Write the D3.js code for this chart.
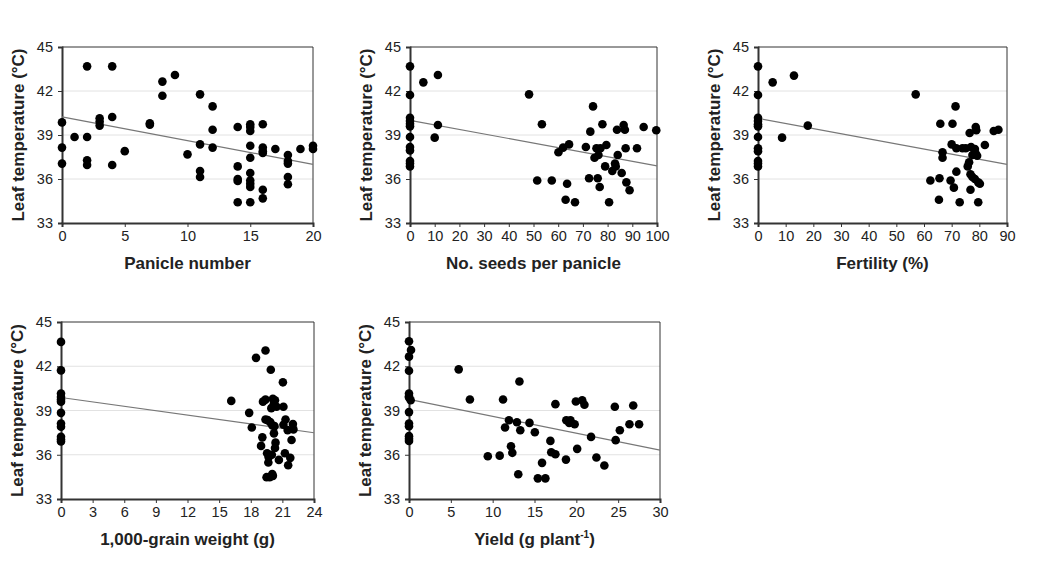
<!DOCTYPE html>
<html><head><meta charset="utf-8">
<script src="https://cdn.jsdelivr.net/npm/d3@7"></script>
<style>
body{margin:0;background:#fff;}
svg{display:block;font-family:"Liberation Sans",Arial,sans-serif;}
</style></head><body>
<svg id="c" width="1054" height="563"></svg>
<script>
// ---- data ----
const yTicks = [33, 36, 39, 42, 45];
const yGrid = [36, 39, 42];

const panicleX = [0,0,0,1,2,2,2,2,3,3,3,4,4,4,5,7,7,8,8,9,10,11,11,11,11,12,12,12,14,14,14,14,14,15,15,15,15,15,15,15,15,15,15,16,16,16,16,16,16,17,18,18,18,18,18,19,20,20];
const panicleY = [39.86,38.14,37.05,38.86,43.68,38.86,37.27,36.95,40.14,39.9,39.64,43.68,40.23,36.95,37.9,39.8,39.7,42.64,41.68,43.09,37.68,41.77,38.36,36.55,36.14,40.95,39.36,38.14,39.55,36.86,36.0,35.86,34.41,39.73,39.55,39.27,38.27,37.45,36.41,35.9,35.68,35.45,34.41,39.73,38.14,37.9,37.77,35.27,34.68,38.05,37.64,37.23,37.05,36.14,35.64,38.05,38.27,38.05];
const panicleTicks = [0,5,10,15,20];
const panicleLine = [40.23, 37.0];

const seedsX = [0,0,0,0,0,0,0,0,0,0,0,0,5.4,11.3,10,11.3,48.2,53.4,51.5,57.4,60.1,62,64.4,63.6,63,66.8,71.2,72.5,73,74.1,74.7,75.5,76,76.3,76.8,77.1,77.9,79,79.5,80.6,81.9,83,83.3,84.1,83.8,85.7,86.5,87,87.3,87.6,88.9,91.9,94.6,99.7];
const seedsY = [43.68,41.73,40.18,39.95,39.77,39.59,38.86,38.18,37.95,37.23,37.05,36.86,42.59,43.09,38.82,39.68,41.77,39.73,35.9,35.9,37.82,38.14,38.36,35.68,34.59,34.41,38.18,36.05,39.23,40.95,37.45,38.1,36.05,37.64,35.45,38.1,39.73,36.86,38.32,34.41,36.55,37.05,36.86,37.64,39.36,36.41,39.68,39.36,38.1,35.77,35.23,38.1,39.55,39.32];
const seedsTicks = [0,10,20,30,40,50,60,70,80,90,100];
const seedsLine = [40.0, 36.9];

const fertX = [0,0,0,0,0,0,0,0,0,0,0,0,5.3,13,8.7,18,57,62.3,65.6,65.4,65.9,66.7,66.7,70.3,69.6,70.0,70.8,71.4,71.7,71.7,72.9,73.9,75.1,75.8,76.3,76.5,76.8,76.8,77,77.5,77.5,78.7,78.9,78.4,78.7,79.2,79.6,78.4,79.6,80.2,82,85.2,86.9];
const fertY = [43.68,41.73,40.18,39.95,39.73,39.59,38.86,38.1,37.9,37.23,37.05,36.86,42.59,43.05,38.82,39.64,41.77,35.9,36.05,34.59,39.77,37.82,37.45,39.77,35.9,38.36,35.41,40.95,36.5,38.1,34.41,38.1,38.1,36.86,37.14,39.14,36.32,35.27,38.18,37.64,36.14,39.55,39.32,38.05,37.73,37.59,34.41,36.0,35.77,35.68,38.32,39.27,39.36];
const fertTicks = [0,10,20,30,40,50,60,70,80,90];
const fertLine = [40.14, 37.0];

const grainX = [0,0,0,0,0,0,0,0,0,0,0,0,16.15,17.85,18.1,18.5,18.98,19.1,19.16,19.4,19.4,19.4,19.5,19.55,19.6,19.67,19.7,19.8,19.85,19.9,19.95,20.0,20.04,20.1,20.05,20.1,20.2,20.2,20.25,20.3,20.35,20.3,20.45,20.67,21.1,21.05,21.1,21.24,21.3,21.5,21.55,21.75,21.87,22.0,22.05];
const grainY = [43.65,41.72,40.15,39.92,39.74,39.6,38.84,38.12,37.9,37.22,37.04,36.9,39.65,38.84,37.85,42.57,36.6,37.18,39.6,43.07,39.74,38.39,34.48,36.1,38.35,35.47,35.83,34.48,38.21,41.76,39.16,36.0,34.7,34.57,37.99,39.79,39.47,37.45,37.94,36.46,36.82,39.7,39.25,35.65,39.25,40.91,38.03,36.1,38.39,37.67,35.29,35.79,37.0,38.08,37.72];
const grainTicks = [0,3,6,9,12,15,18,21,24];
const grainLine = [39.88, 37.49];

const yieldX = [0,0.24,0,0,0,0,0,0.2,0,0,0,0,0,0,5.94,7.28,9.42,10.84,11.24,11.48,11.95,12.19,12.35,12.9,13.06,13.2,13.3,14.4,15.04,15.4,15.9,16.3,16.9,17,17.5,17.5,18.76,18.8,19.15,19.3,19.8,19.94,20.1,20.7,20.97,21.76,22.4,23.35,24.6,24.7,25.2,26.35,26.8,27.5];
const yieldY = [43.69,43.1,42.65,41.7,40.15,39.97,39.88,39.7,38.89,38.12,37.94,37.26,37.08,36.94,41.79,39.75,35.9,35.94,39.75,37.85,38.34,36.58,36.13,38.2,34.68,40.97,37.66,38.16,37.53,34.4,35.45,34.4,36.94,36.17,39.43,36.03,35.67,38.34,38.16,38.34,38.07,39.61,36.4,39.7,39.39,37.21,35.81,35.27,39.25,36.99,37.66,38.07,39.34,38.07];
const yieldTicks = [0,5,10,15,20,25,30];
const yieldLine = [39.75, 36.31];

// ---- layout ----
const panels = [
  {xs: panicleX, ys: panicleY, ticks: panicleTicks, line: panicleLine, title: "Panicle number", box: [62, 47, 313, 223]},
  {xs: seedsX, ys: seedsY, ticks: seedsTicks, line: seedsLine, title: "No. seeds per panicle", box: [410, 47, 657, 223]},
  {xs: fertX, ys: fertY, ticks: fertTicks, line: fertLine, title: "Fertility (%)", box: [758, 47, 1007, 223]},
  {xs: grainX, ys: grainY, ticks: grainTicks, line: grainLine, title: "1,000-grain weight (g)", box: [61, 322, 314, 499]},
  {xs: yieldX, ys: yieldY, ticks: yieldTicks, line: yieldLine, title: "Yield (g plant", sup: "-1", tail: ")", box: [409, 322, 660, 499]}
];

const svg = d3.select("#c");
const FONT = '"Liberation Sans",Arial,sans-serif';

panels.forEach(p => {
  const [x0, y0, x1, y1] = p.box;
  const xDom = [p.ticks[0], p.ticks[p.ticks.length - 1]];
  const x = d3.scaleLinear().domain(xDom).range([x0, x1]);
  const y = d3.scaleLinear().domain([33, 45]).range([y1, y0]);
  const g = svg.append("g");

  g.selectAll("line.grid").data(yGrid).enter().append("line")
    .attr("x1", x0).attr("x2", x1)
    .attr("y1", d => y(d)).attr("y2", d => y(d))
    .attr("stroke", "#e2e2e2").attr("stroke-width", 1);

  g.append("path")
    .attr("d", `M${x0},${y0}H${x1}V${y1}`)
    .attr("fill", "none").attr("stroke", "#333").attr("stroke-width", 1);

  const ya = g.append("g").attr("transform", `translate(${x0},0)`)
    .call(d3.axisLeft(y).tickValues(yTicks).tickSize(4).tickPadding(5));
  ya.select(".domain").attr("stroke", "#333").attr("stroke-width", 2);
  ya.selectAll(".tick line").attr("stroke", "#333").attr("stroke-width", 1);
  ya.selectAll("text").attr("font-size", 14.5).attr("fill", "#222").attr("font-family", FONT);

  const xa = g.append("g").attr("transform", `translate(0,${y1})`)
    .call(d3.axisBottom(x).tickValues(p.ticks).tickSize(4).tickPadding(4));
  xa.select(".domain").attr("stroke", "#333").attr("stroke-width", 2);
  xa.selectAll(".tick line").attr("stroke", "#333").attr("stroke-width", 1);
  xa.selectAll("text").attr("font-size", 14.5).attr("fill", "#222").attr("font-family", FONT);

  g.append("line")
    .attr("x1", x(xDom[0])).attr("y1", y(p.line[0]))
    .attr("x2", x(xDom[1])).attr("y2", y(p.line[1]))
    .attr("stroke", "#777").attr("stroke-width", 1.2);

  g.selectAll("circle").data(p.xs.map((v, i) => [v, p.ys[i]])).enter().append("circle")
    .attr("cx", d => x(d[0])).attr("cy", d => y(d[1])).attr("r", 4.3)
    .attr("fill", "#000");

  const t = g.append("text")
    .attr("x", (x0 + x1) / 2).attr("y", y1 + 46)
    .attr("text-anchor", "middle").attr("font-size", 17).attr("font-weight", "bold")
    .attr("fill", "#222").text(p.title);
  if (p.sup) {
    t.append("tspan").attr("font-size", 10).attr("dy", -7).text(p.sup);
    t.append("tspan").attr("dy", 7).text(p.tail);
  }

  g.append("text")
    .attr("transform", `translate(${x0 - 38},${(y0 + y1) / 2}) rotate(-90)`)
    .attr("text-anchor", "middle").attr("font-size", 17).attr("font-weight", "bold")
    .attr("fill", "#222").text("Leaf temperature (\u00B0C)");
});
</script>
</body></html>
